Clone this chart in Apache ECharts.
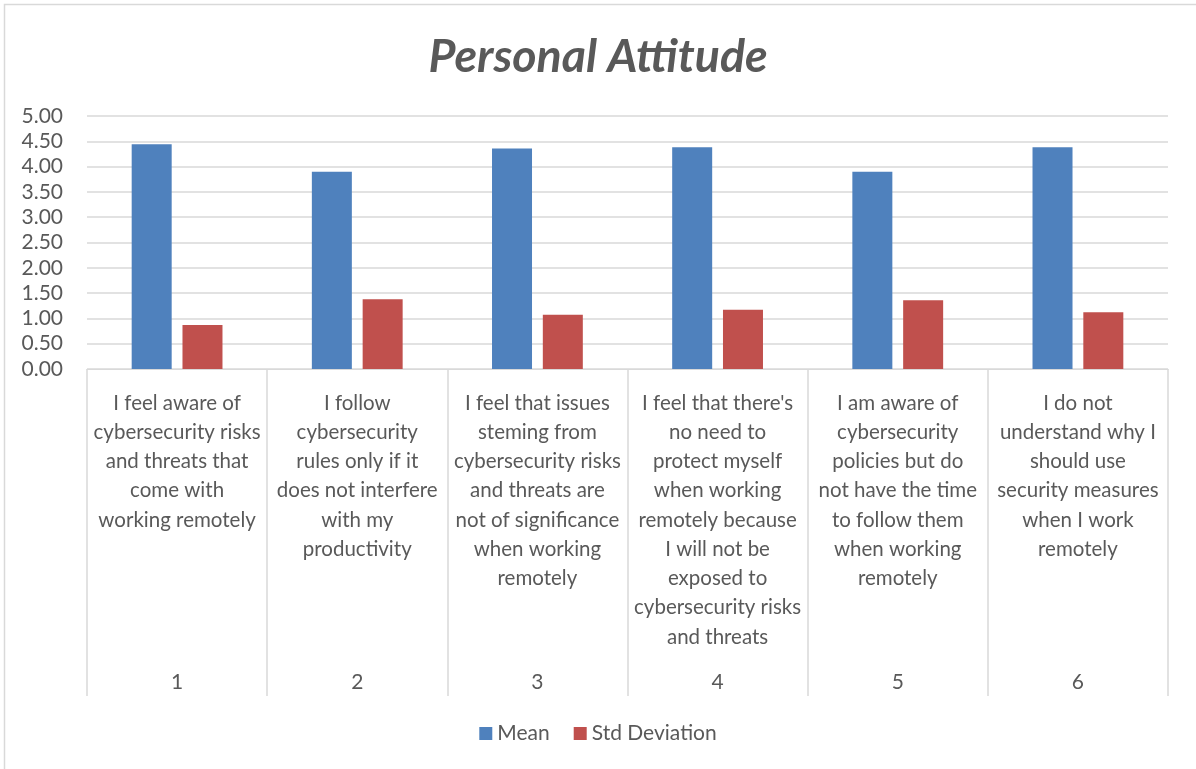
<!DOCTYPE html>
<html>
<head>
<meta charset="utf-8">
<script src="https://cdn.jsdelivr.net/npm/echarts@6/dist/echarts.min.js"></script>
<style>
  html, body { margin: 0; padding: 0; background: #ffffff; }
  #chart { width: 1196px; height: 769px; }
</style>
</head>
<body>
<div id="chart"></div>
<script>
// Survey statements (wrapped as they appear under each column)
const statements = [
  'I feel aware of\ncybersecurity risks\nand threats that\ncome with\nworking remotely',
  'I follow\ncybersecurity\nrules only if it\ndoes not interfere\nwith my\nproductivity',
  'I feel that issues\nsteming from\ncybersecurity risks\nand threats are\nnot of significance\nwhen working\nremotely',
  "I feel that there's\nno need to\nprotect myself\nwhen working\nremotely because\nI will not be\nexposed to\ncybersecurity risks\nand threats",
  'I am aware of\ncybersecurity\npolicies but do\nnot have the time\nto follow them\nwhen working\nremotely',
  'I do not\nunderstand why I\nshould use\nsecurity measures\nwhen I work\nremotely'
];
const itemNumbers = ['1', '2', '3', '4', '5', '6'];
const meanValues = [4.44, 3.90, 4.36, 4.38, 3.90, 4.38];
const stdValues = [0.87, 1.38, 1.07, 1.17, 1.36, 1.12];

const FONT = 'Lato, "Open Sans", sans-serif';
const TEXT = '#595959';
const LINE = '#d9d9d9';

const chart = echarts.init(document.getElementById('chart'), null, { renderer: 'canvas' });

chart.setOption({
  backgroundColor: '#ffffff',
  animation: false,
  textStyle: { fontFamily: FONT },
  graphic: [{
    type: 'rect',
    shape: { x: 4.5, y: 4.5, width: 1300, height: 900 },
    style: { fill: 'none', stroke: LINE, lineWidth: 1.5 },
    silent: true
  }],
  title: {
    text: 'Personal Attitude',
    left: 'center',
    top: 28,
    textStyle: {
      fontFamily: FONT,
      fontSize: 46.5,
      fontStyle: 'italic',
      fontWeight: 'bold',
      color: TEXT
    }
  },
  legend: {
    bottom: 20,
    left: 'center',
    icon: 'rect',
    itemWidth: 13,
    itemHeight: 13,
    itemGap: 24,
    textStyle: { fontFamily: FONT, fontSize: 21, color: TEXT },
    data: ['Mean', 'Std Deviation']
  },
  grid: { left: 87, right: 28, top: 116, height: 253, containLabel: false },
  xAxis: [{
    type: 'category',
    data: statements,
    position: 'bottom',
    axisLine: { show: true, lineStyle: { color: LINE, width: 1 } },
    axisTick: { show: true, length: 327, lineStyle: { color: LINE, width: 1.5 } },
    axisLabel: {
      interval: 0,
      margin: 19.5,
      fontFamily: FONT,
      fontSize: 20.5,
      lineHeight: 29.25,
      color: TEXT,
      align: 'center'
    }
  }, {
    type: 'category',
    data: itemNumbers,
    position: 'bottom',
    offset: 296,
    axisLine: { show: false },
    axisTick: { show: false },
    axisLabel: { interval: 0, margin: 7, fontFamily: FONT, fontSize: 21, color: TEXT }
  }],
  yAxis: {
    type: 'value',
    min: 0,
    max: 5,
    interval: 0.5,
    axisLine: { show: false },
    axisTick: { show: false },
    splitLine: { lineStyle: { color: LINE, width: 1.5 } },
    axisLabel: {
      margin: 24,
      fontFamily: FONT,
      fontSize: 21,
      color: TEXT,
      formatter: v => v.toFixed(2)
    }
  },
  series: [{
    name: 'Mean',
    type: 'bar',
    data: meanValues,
    barWidth: 40,
    barGap: '27%',
    itemStyle: { color: '#4f81bd' }
  }, {
    name: 'Std Deviation',
    type: 'bar',
    data: stdValues,
    barWidth: 40,
    barGap: '27%',
    itemStyle: { color: '#c0504d' }
  }]
});
</script>
</body>
</html>
